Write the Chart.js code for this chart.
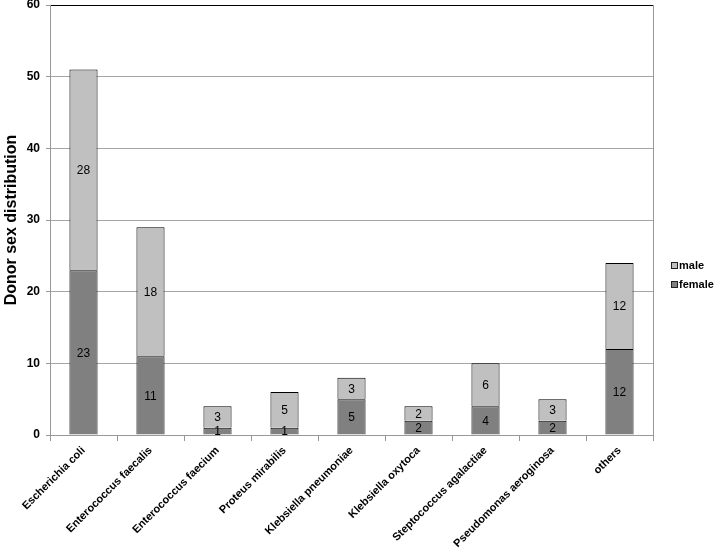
<!DOCTYPE html>
<html>
<head>
<meta charset="utf-8">
<script src="https://cdn.jsdelivr.net/npm/chart.js@4.4.1/dist/chart.umd.min.js"></script>
<style>
  html, body { margin:0; padding:0; background:#fff; }
  #wrap { width:716px; height:548px; }
</style>
</head>
<body>
<div id="wrap"><canvas id="ch" width="716" height="548"></canvas></div>
<script>
const categories = ['Escherichia coli','Enterococcus faecalis','Enterococcus faecium','Proteus mirabilis','Klebsiella pneumoniae','Klebsiella oxytoca','Steptococcus agalactiae','Pseudomonas aeroginosa','others'];
const female = [23, 11, 1, 1, 5, 2, 4, 2, 12];
const male   = [28, 18, 3, 5, 3, 2, 6, 3, 12];
const yTicks = [0, 10, 20, 30, 40, 50, 60];

const FONT = 'Liberation Sans, Arial, sans-serif';

// numbers written in the middle of each stacked segment
const segLabels = {
  id: 'segLabels',
  afterDatasetsDraw(chart){
    const c = chart.ctx;
    c.save();
    c.font = '12px ' + FONT;
    c.fillStyle = '#000';
    c.textAlign = 'center';
    c.textBaseline = 'middle';
    chart.data.datasets.forEach((ds, di) => {
      const meta = chart.getDatasetMeta(di);
      meta.data.forEach((bar, i) => {
        const p = bar.getProps(['x','y','base'], true);
        c.fillText(String(ds.data[i]), p.x, (p.y + p.base) / 2 + 1);
      });
    });
    c.restore();
  }
};

// small excel-style legend to the right of the plot, male on top
const sideLegend = {
  id: 'sideLegend',
  afterDraw(chart){
    const c = chart.ctx;
    const x0 = chart.chartArea.right + 18;
    const items = chart.data.datasets.slice().reverse();
    c.save();
    c.font = 'bold 11px ' + FONT;
    c.textBaseline = 'middle';
    items.forEach((ds, i) => {
      const y = 265 + i * 19;
      c.fillStyle = ds.backgroundColor;
      c.fillRect(x0, y - 3, 7, 7);
      c.strokeStyle = '#222';
      c.lineWidth = 1;
      c.strokeRect(x0 + 0.5, y - 2.5, 6, 6);
      c.fillStyle = '#000';
      c.fillText(ds.label, x0 + 8, y + 1);
    });
    c.restore();
  }
};

new Chart(document.getElementById('ch'), {
  type: 'bar',
  data: {
    labels: categories,
    datasets: [
      { label:'female', data:female, backgroundColor:'#808080', borderColor:'#000', borderWidth:1, barPercentage:0.42, categoryPercentage:1 },
      { label:'male',   data:male,   backgroundColor:'#c0c0c0', borderColor:'#000', borderWidth:1, barPercentage:0.42, categoryPercentage:1 }
    ]
  },
  options: {
    responsive:false, animation:false, maintainAspectRatio:false,
    layout:{ padding:{ top:5, left:0, right:63, bottom:0 } },
    plugins:{
      legend:{ display:false },
      tooltip:{ enabled:false }
    },
    scales:{
      x:{
        stacked:true,
        afterFit(s){ s.height = 113; s.paddingLeft = 0; s.paddingRight = 0; },
        border:{ color:'#999' },
        grid:{ offset:true, drawOnChartArea:true, tickLength:6, tickColor:'#999',
               color: ctx => ctx.type === 'scale' ? '#999' : 'rgba(0,0,0,0)' },
        ticks:{ minRotation:45, maxRotation:45, autoSkip:false, color:'#000', font:{ family:FONT, size:11, weight:'bold' } }
      },
      y:{
        stacked:true, min:0, max:60,
        afterFit(s){ s.width = 50; s.paddingTop = 0; s.paddingBottom = 0; },
        afterBuildTicks(s){ s.ticks = yTicks.map(v => ({ value:v })); },
        border:{ color:'#999' },
        grid:{ tickLength:4, tickColor:'#999', color: ctx => ctx.tick && ctx.tick.value === 60 ? '#000' : '#a6a6a6' },
        ticks:{ color:'#000', padding:6, font:{ family:FONT, size:12, weight:'bold' } },
        title:{ display:true, text:'Donor sex distribution', color:'#000', padding:{ top:2, bottom:6 }, font:{ family:FONT, size:16, weight:'bold' } }
      }
    }
  },
  plugins:[segLabels, sideLegend]
});
</script>
</body>
</html>
